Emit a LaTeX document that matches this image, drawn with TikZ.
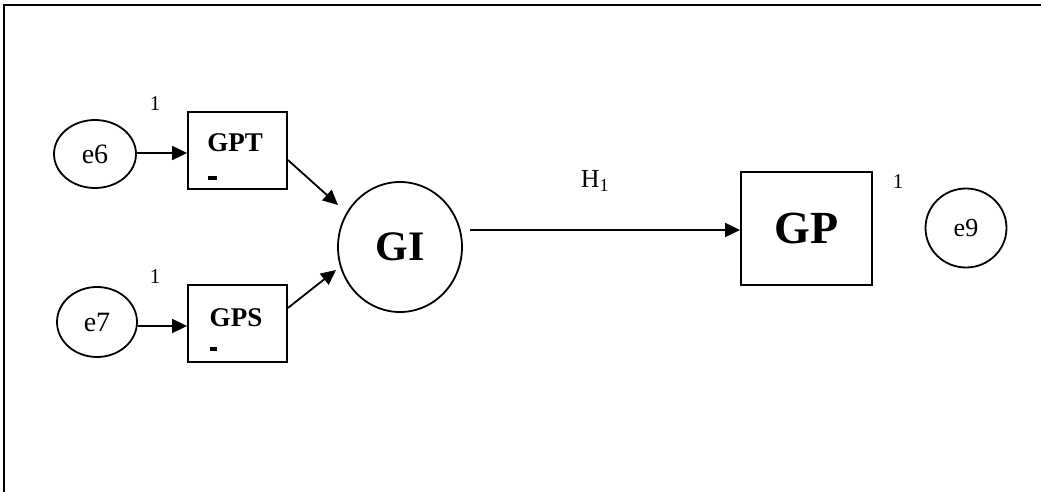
\documentclass[tikz,border=0pt]{standalone}
\usepackage{fontspec}
\setmainfont{Liberation Serif}
\usetikzlibrary{arrows.meta,shapes.geometric,calc}
\begin{document}
\begin{tikzpicture}[x=1pt,y=-1pt,
  circ/.style={draw,ellipse,line width=1.8pt,inner sep=0pt,font=\fontsize{28}{30}\selectfont},
  sbox/.style={draw,rectangle,line width=1.8pt,inner sep=0pt},
  arr/.style={line width=1.8pt,-{Triangle[length=15pt,width=14pt]}},
  lbl/.style={font=\fontsize{21}{23}\selectfont,inner sep=0pt},
  btxt/.style={font=\bfseries\fontsize{27}{29}\selectfont,inner sep=0pt}]
\useasboundingbox (0,0) rectangle (1041,492);
\draw[line width=2pt] (4,492) -- (4,5) -- (1041,5);

\node[lbl] (one1) at (155,104) {1};
\node[circ,minimum width=82pt,minimum height=68pt] (e6) at (95,154) {e6};
\node[sbox,minimum width=99pt,minimum height=77pt] (gpt) at (237.5,150.5) {};
\node[btxt] (gptt) at (235,143) {GPT};
\fill (208,176) rectangle (217,180);

\node[lbl] (one2) at (155,277) {1};
\node[circ,minimum width=80pt,minimum height=70pt] (e7) at (97,322) {e7};
\node[sbox,minimum width=99pt,minimum height=77pt] (gps) at (237.5,323.5) {};
\node[btxt] (gpst) at (236,318) {GPS};
\fill (210,347) rectangle (217,351);

\node[draw,ellipse,line width=1.8pt,minimum width=124pt,minimum height=130pt,inner sep=0pt,
      font=\bfseries\fontsize{42}{44}\selectfont] (gi) at (400,247) {GI};

\node[font=\fontsize{26}{28}\selectfont,inner sep=0pt] (h1) at (595,181) {H\textsubscript{1}};

\node[sbox,minimum width=131pt,minimum height=113pt,
      font=\bfseries\fontsize{46}{48}\selectfont] (gp) at (806.5,228.5) {GP};
\node[lbl] (one3) at (898,182) {1};
\node[circ,minimum width=81pt,minimum height=79pt,font=\fontsize{26}{28}\selectfont] (e9) at (966,228) {e9};

\draw[arr] (e6.east |- 0,153) -- (gpt.west |- 0,153);
\draw[arr] (e7.east |- 0,326) -- (gps.west |- 0,326);
\draw[arr] (gpt.east |- 0,160) -- (338,205);
\draw[arr] (gps.east |- 0,308) -- (336,270);
\coordinate (gistart) at (470,230);
\draw[arr] (gistart) -- (gistart -| gp.west);
\end{tikzpicture}
\end{document}
